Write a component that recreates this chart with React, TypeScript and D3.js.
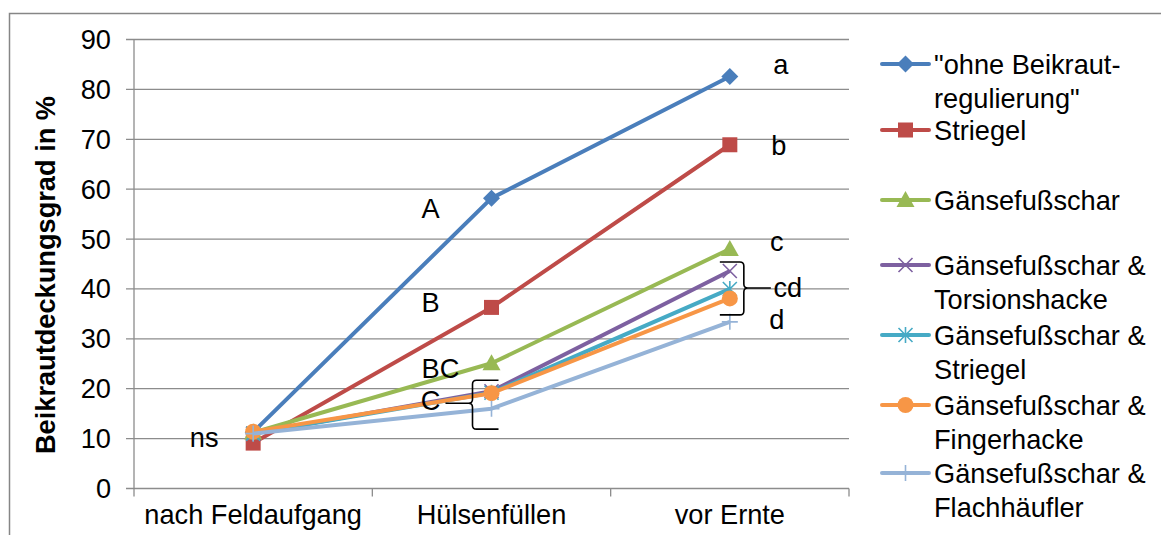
import React from "react";
import * as d3 from "d3";

// categories and series values (Beikrautdeckungsgrad in %)
const categories = ["nach Feldaufgang", "Hülsenfüllen", "vor Ernte"];
const ohneValues = [11.3, 58.2, 82.6];
const striegelValues = [9.1, 36.3, 68.9];
const gfsValues = [11.2, 25.1, 48.0];
const gfsTorsionValues = [11.0, 19.5, 43.6];
const gfsStriegelValues = [11.0, 19.2, 40.0];
const gfsFingerValues = [11.4, 19.1, 38.1];
const gfsFlachValues = [11.0, 16.0, 33.4];
const yTicks = [0, 10, 20, 30, 40, 50, 60, 70, 80, 90];

const legendLabels = [
  ['"ohne Beikraut-', 'regulierung"'],
  ["Striegel"],
  ["Gänsefußschar"],
  ["Gänsefußschar &", "Torsionshacke"],
  ["Gänsefußschar &", "Striegel"],
  ["Gänsefußschar &", "Fingerhacke"],
  ["Gänsefußschar &", "Flachhäufler"],
];
const seriesColors = ["#4A7EBB", "#BE4B48", "#98B954", "#7D60A0", "#46AAC5", "#F79646", "#95B3D7"];
const seriesMarkers = ["diamond", "square", "triangle", "x", "star", "circle", "plus"];

// significance letters: category, value, horizontal offset from category center
const letterTexts = ["a", "b", "c", "cd", "d", "A", "B", "BC", "C", "ns"];
const letterCats = [2, 2, 2, 2, 2, 1, 1, 1, 1, 0];
const letterValues = [84.9, 68.8, 49.6, 40.2, 33.9, 56.2, 37.2, 24.1, 17.7, 10.3];
const letterOffsets = [51, 49, 47, 58, 47, -61, -61, -51, -61, -49];

const series = [
  ohneValues,
  striegelValues,
  gfsValues,
  gfsTorsionValues,
  gfsStriegelValues,
  gfsFingerValues,
  gfsFlachValues,
];

const FONT = '"Liberation Sans", Arial, sans-serif';
const FS = 27.2;
const legendY = [64, 130, 200, 265, 335, 405, 473];

const Marker = ({ type, x, y, color }: { type: string; x: number; y: number; color: string }) => {
  switch (type) {
    case "diamond":
      return <path d={`M${x},${y - 8.5}L${x + 8.5},${y}L${x},${y + 8.5}L${x - 8.5},${y}Z`} fill={color} />;
    case "square":
      return <rect x={x - 7.5} y={y - 7.5} width={15} height={15} fill={color} />;
    case "triangle":
      return <path d={`M${x},${y - 9}L${x + 9},${y + 7}L${x - 9},${y + 7}Z`} fill={color} />;
    case "circle":
      return <circle cx={x} cy={y} r={8} fill={color} />;
    case "x":
      return (
        <path
          d={`M${x - 7},${y - 7}L${x + 7},${y + 7}M${x - 7},${y + 7}L${x + 7},${y - 7}`}
          stroke={color}
          strokeWidth={1.6}
        />
      );
    case "star":
      return (
        <path
          d={`M${x - 7},${y - 7}L${x + 7},${y + 7}M${x - 7},${y + 7}L${x + 7},${y - 7}M${x},${y - 8}L${x},${y + 8}`}
          stroke={color}
          strokeWidth={1.6}
        />
      );
    case "plus":
      return (
        <path d={`M${x - 8},${y}L${x + 8},${y}M${x},${y - 8}L${x},${y + 8}`} stroke={color} strokeWidth={1.6} />
      );
    default:
      return null;
  }
};

export default function App() {
  const width = 1161;
  const height = 535;
  const left = 134;
  const right = 849;
  const top = 39.5;
  const bottom = 488.5;

  const x = d3.scaleBand<string>().domain(categories).range([left, right]).padding(0);
  const cx = (c: string) => (x(c) as number) + x.bandwidth() / 2;
  const y = d3.scaleLinear().domain([0, 90]).range([bottom, top]);

  const line = d3
    .line<number>()
    .x((_, i) => cx(categories[i]))
    .y((d) => y(d));

  // braces
  const lb = d3.path();
  {
    const xa = cx(categories[1]) + 7;
    const xv = xa - 26;
    const xp = xv - 27;
    const y0 = y(21.7);
    const ym = y(17.1);
    const y1 = y(11.9);
    lb.moveTo(xa, y0);
    lb.lineTo(xv + 4, y0);
    lb.quadraticCurveTo(xv, y0, xv, y0 + 4);
    lb.lineTo(xv, ym - 4);
    lb.quadraticCurveTo(xv, ym, xv - 4, ym);
    lb.lineTo(xp, ym);
    lb.moveTo(xv - 4, ym);
    lb.quadraticCurveTo(xv, ym, xv, ym + 4);
    lb.lineTo(xv, y1 - 4);
    lb.quadraticCurveTo(xv, y1, xv + 4, y1);
    lb.lineTo(xa, y1);
  }
  const rb = d3.path();
  {
    const xa = cx(categories[2]) - 10;
    const xv = xa + 24;
    const xp = xv + 27;
    const y0 = y(45.4);
    const ym = y(40.2);
    const y1 = y(34.8);
    rb.moveTo(xa, y0);
    rb.lineTo(xv - 4, y0);
    rb.quadraticCurveTo(xv, y0, xv, y0 + 4);
    rb.lineTo(xv, ym - 4);
    rb.quadraticCurveTo(xv, ym, xv + 4, ym);
    rb.lineTo(xp, ym);
    rb.moveTo(xv + 4, ym);
    rb.quadraticCurveTo(xv, ym, xv, ym + 4);
    rb.lineTo(xv, y1 - 4);
    rb.quadraticCurveTo(xv, y1, xv - 4, y1);
    rb.lineTo(xa, y1);
  }

  const boundaries = [left, ...categories.map((c) => (x(c) as number) + x.bandwidth())];

  return (
    <svg
      width={width}
      height={height}
      style={{ position: "absolute", left: 0, top: 0, background: "#fff" }}
      fontFamily={FONT}
    >
      <rect x={9.5} y={13.5} width={1200} height={600} fill="#fff" stroke="#868686" strokeWidth={1.5} />

      {/* grid + y ticks */}
      {yTicks.map((t) => (
        <g key={t}>
          <line x1={left - 8} x2={right} y1={y(t)} y2={y(t)} stroke="#8c8c8c" strokeWidth={1.3} />
          <text x={111} y={y(t)} dy="0.35em" textAnchor="end" fontSize={FS} fill="#000">
            {t}
          </text>
        </g>
      ))}
      <line x1={left} x2={left} y1={top} y2={bottom} stroke="#8c8c8c" strokeWidth={1.3} />
      {boundaries.map((b, i) => (
        <line key={i} x1={b} x2={b} y1={bottom} y2={bottom + 8} stroke="#8c8c8c" strokeWidth={1.3} />
      ))}
      {categories.map((c) => (
        <text key={c} x={cx(c)} y={524} textAnchor="middle" fontSize={FS} fill="#000">
          {c}
        </text>
      ))}

      <text
        transform="translate(45,275) rotate(-90)"
        dy="0.35em"
        textAnchor="middle"
        fontSize={FS}
        fontWeight="bold"
        fill="#000"
      >
        Beikrautdeckungsgrad in %
      </text>

      {/* series */}
      {series.map((vals, si) => (
        <g key={si}>
          <path d={line(vals) || ""} fill="none" stroke={seriesColors[si]} strokeWidth={4} strokeLinejoin="round" />
          {vals.map((v, i) => (
            <Marker key={i} type={seriesMarkers[si]} x={cx(categories[i])} y={y(v)} color={seriesColors[si]} />
          ))}
        </g>
      ))}

      {/* braces */}
      <path d={lb.toString()} fill="none" stroke="#000" strokeWidth={1.6} />
      <path d={rb.toString()} fill="none" stroke="#000" strokeWidth={1.6} />

      {/* letters */}
      {letterTexts.map((t, i) => (
        <text
          key={i}
          x={cx(categories[letterCats[i]]) + letterOffsets[i]}
          y={y(letterValues[i])}
          dy="0.35em"
          textAnchor="middle"
          fontSize={FS}
          fill="#000"
        >
          {t}
        </text>
      ))}

      {/* legend */}
      {legendLabels.map((lines, i) => (
        <g key={i}>
          <line x1={882} x2={929} y1={legendY[i]} y2={legendY[i]} stroke={seriesColors[i]} strokeWidth={4} strokeLinecap="round" />
          <Marker type={seriesMarkers[i]} x={905.5} y={legendY[i]} color={seriesColors[i]} />
          {lines.map((l, j) => (
            <text key={j} x={934} y={legendY[i] + j * 34} dy="0.35em" fontSize={FS} fill="#000">
              {l}
            </text>
          ))}
        </g>
      ))}
    </svg>
  );
}
